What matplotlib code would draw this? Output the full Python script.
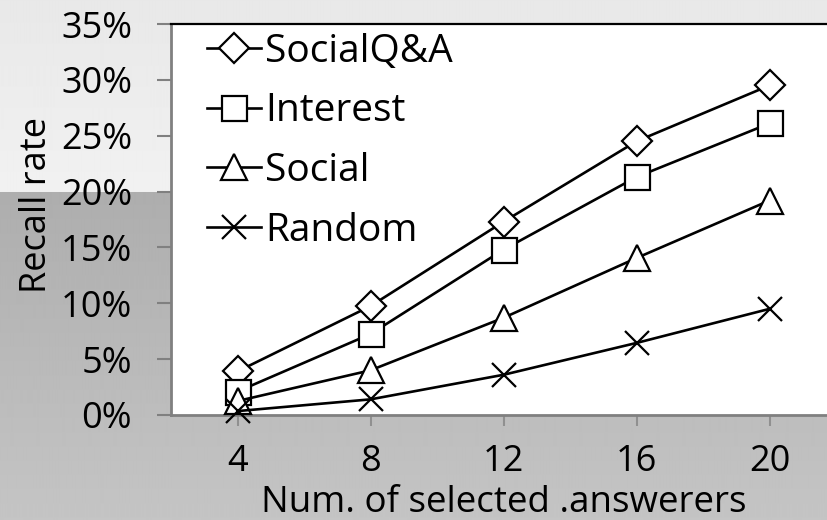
import numpy as np
import matplotlib.pyplot as plt

# Recall rate (%) for each method vs. number of selected answerers
answerers = ["4", "8", "12", "16", "20"]
social_qa = [3.9, 9.75, 17.3, 24.5, 29.5]
interest = [2.1, 7.25, 14.8, 21.3, 26.1]
social = [1.25, 4.0, 8.7, 14.05, 19.2]
random_sel = [0.35, 1.4, 3.6, 6.45, 9.5]

series = [
    ("SocialQ&A", social_qa, "D", 15),
    ("Interest", interest, "s", 18),
    ("Social", social, "^", 19),
    ("Random", random_sel, "x", 17),
]

plt.rcParams["font.family"] = ["Open Sans", "DejaVu Sans"]

fig = plt.figure(figsize=(8.27, 5.2), dpi=100)

# two-tone gradient backdrop
bg = fig.add_axes([0, 0, 1, 1], zorder=-10)
bg.axis("off")
rows = 520
t = np.linspace(0, 1, rows)
split = 192 / 520
shade = np.where(t < split,
                 0.91 + 0.035 * t / split,
                 0.68 + 0.09 * (t - split) / (1 - split))
img = np.repeat(shade[:, None], 4, axis=1)
bg.imshow(img, cmap="gray", vmin=0, vmax=1, aspect="auto",
          extent=[0, 1, 0, 1], interpolation="bilinear")
bg.set_xlim(0, 1)
bg.set_ylim(0, 1)

ax = fig.add_axes([171 / 827, 105 / 520, 665 / 827, 391 / 520])
ax.set_facecolor("white")

x = np.arange(len(answerers))
for name, vals, mk, ms in series:
    ax.plot(x, vals, color="black", lw=1.9, marker=mk, markersize=ms,
            markerfacecolor="white" if mk != "x" else "black",
            markeredgecolor="black", markeredgewidth=1.6, label=name,
            clip_on=False, zorder=3)

ax.set_xlim(-0.5, 4.5)
ax.set_ylim(0, 35)
ax.set_xticks(x)
ax.set_xticklabels(answerers)
ax.set_yticks(np.arange(0, 36, 5))
ax.set_yticklabels([f"{v}%" for v in range(0, 36, 5)])

ax.tick_params(axis="y", length=10, width=1.5, color="#808080",
               labelsize=26, pad=18)
ax.tick_params(axis="x", length=8, width=1.5, color="#909090",
               labelsize=26, pad=13)

for side in ["left", "bottom"]:
    ax.spines[side].set_color("#808080")
    ax.spines[side].set_linewidth(2)
ax.spines["top"].set_color("black")
ax.spines["top"].set_linewidth(1.6)
ax.spines["right"].set_visible(False)

ax.set_ylabel("Recall rate", fontsize=26)
ax.yaxis.set_label_coords(-0.175, 0.537)
ax.set_xlabel("Num. of selected .answerers", fontsize=26.5, va="center")
ax.xaxis.set_label_coords(0.5, -0.226)

ax.legend(loc="upper left", bbox_to_anchor=(0.03, 1.018), frameon=False,
          fontsize=28, handlelength=1.4, handletextpad=0.1,
          labelspacing=0.56, borderaxespad=0)

fig.savefig("out.png", dpi=100)
